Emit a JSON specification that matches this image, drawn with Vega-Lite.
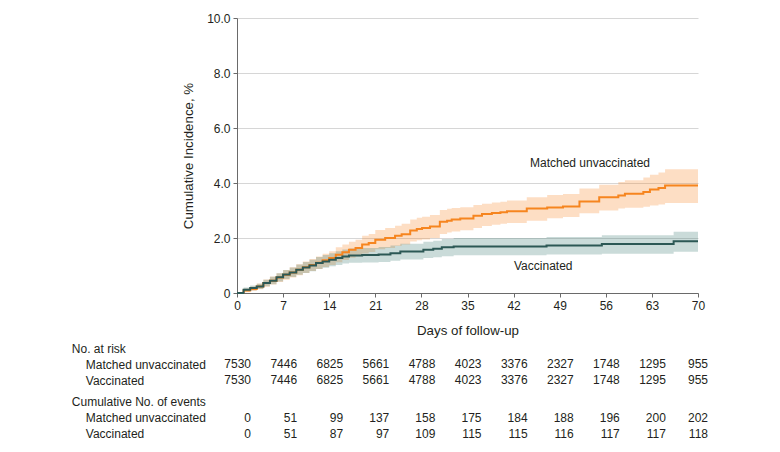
{
  "$schema": "https://vega.github.io/schema/vega-lite/v6.json",
  "autosize": {"type": "pad"},
  "padding": {"left": 71, "top": 12, "right": 5, "bottom": 5},
  "spacing": 5.3,
  "config": {
    "font": "Liberation Sans",
    "view": {"stroke": null},
    "axis": {"grid": false, "labelFont": "Liberation Sans", "titleFont": "Liberation Sans", "labelColor": "#231f20", "titleColor": "#231f20", "labelFontSize": 12, "titleFontSize": 13.3, "titleFontWeight": "normal", "domainColor": "#6a6a6a", "tickColor": "#6a6a6a", "tickSize": 4},
    "text": {"font": "Liberation Sans", "fontSize": 12, "color": "#231f20"}
  },
  "datasets": {
    "km": [
      {"group": "Matched unvaccinated", "day": 0, "est": 0, "lo": 0, "hi": 0},
      {"group": "Matched unvaccinated", "day": 1, "est": 0.09, "lo": 0.03, "hi": 0.16},
      {"group": "Matched unvaccinated", "day": 2, "est": 0.15, "lo": 0.07, "hi": 0.24},
      {"group": "Matched unvaccinated", "day": 3, "est": 0.24, "lo": 0.14, "hi": 0.35},
      {"group": "Matched unvaccinated", "day": 4, "est": 0.36, "lo": 0.23, "hi": 0.49},
      {"group": "Matched unvaccinated", "day": 5, "est": 0.45, "lo": 0.31, "hi": 0.6},
      {"group": "Matched unvaccinated", "day": 6, "est": 0.56, "lo": 0.4, "hi": 0.72},
      {"group": "Matched unvaccinated", "day": 7, "est": 0.66, "lo": 0.48, "hi": 0.84},
      {"group": "Matched unvaccinated", "day": 8, "est": 0.75, "lo": 0.56, "hi": 0.94},
      {"group": "Matched unvaccinated", "day": 9, "est": 0.85, "lo": 0.65, "hi": 1.05},
      {"group": "Matched unvaccinated", "day": 10, "est": 0.94, "lo": 0.73, "hi": 1.15},
      {"group": "Matched unvaccinated", "day": 11, "est": 1.02, "lo": 0.8, "hi": 1.24},
      {"group": "Matched unvaccinated", "day": 12, "est": 1.1, "lo": 0.87, "hi": 1.33},
      {"group": "Matched unvaccinated", "day": 13, "est": 1.19, "lo": 0.95, "hi": 1.43},
      {"group": "Matched unvaccinated", "day": 14, "est": 1.27, "lo": 1.02, "hi": 1.52},
      {"group": "Matched unvaccinated", "day": 15, "est": 1.39, "lo": 1.12, "hi": 1.66},
      {"group": "Matched unvaccinated", "day": 16, "est": 1.48, "lo": 1.2, "hi": 1.76},
      {"group": "Matched unvaccinated", "day": 17, "est": 1.57, "lo": 1.28, "hi": 1.86},
      {"group": "Matched unvaccinated", "day": 18, "est": 1.64, "lo": 1.34, "hi": 1.94},
      {"group": "Matched unvaccinated", "day": 19, "est": 1.76, "lo": 1.44, "hi": 2.08},
      {"group": "Matched unvaccinated", "day": 20, "est": 1.82, "lo": 1.49, "hi": 2.15},
      {"group": "Matched unvaccinated", "day": 21, "est": 1.94, "lo": 1.59, "hi": 2.29},
      {"group": "Matched unvaccinated", "day": 22.5, "est": 2.0, "lo": 1.64, "hi": 2.36},
      {"group": "Matched unvaccinated", "day": 24, "est": 2.08, "lo": 1.71, "hi": 2.45},
      {"group": "Matched unvaccinated", "day": 25, "est": 2.14, "lo": 1.76, "hi": 2.52},
      {"group": "Matched unvaccinated", "day": 26.3, "est": 2.27, "lo": 1.87, "hi": 2.67},
      {"group": "Matched unvaccinated", "day": 27.3, "est": 2.33, "lo": 1.92, "hi": 2.74},
      {"group": "Matched unvaccinated", "day": 28.1, "est": 2.36, "lo": 1.95, "hi": 2.77},
      {"group": "Matched unvaccinated", "day": 29.3, "est": 2.42, "lo": 2.0, "hi": 2.84},
      {"group": "Matched unvaccinated", "day": 30.8, "est": 2.59, "lo": 2.15, "hi": 3.02},
      {"group": "Matched unvaccinated", "day": 31.9, "est": 2.63, "lo": 2.2, "hi": 3.06},
      {"group": "Matched unvaccinated", "day": 32.6, "est": 2.67, "lo": 2.24, "hi": 3.09},
      {"group": "Matched unvaccinated", "day": 33.9, "est": 2.71, "lo": 2.28, "hi": 3.12},
      {"group": "Matched unvaccinated", "day": 35.9, "est": 2.81, "lo": 2.36, "hi": 3.2},
      {"group": "Matched unvaccinated", "day": 37.2, "est": 2.87, "lo": 2.44, "hi": 3.25},
      {"group": "Matched unvaccinated", "day": 38.7, "est": 2.91, "lo": 2.48, "hi": 3.29},
      {"group": "Matched unvaccinated", "day": 40, "est": 2.94, "lo": 2.52, "hi": 3.32},
      {"group": "Matched unvaccinated", "day": 41, "est": 2.97, "lo": 2.55, "hi": 3.36},
      {"group": "Matched unvaccinated", "day": 44, "est": 3.07, "lo": 2.63, "hi": 3.48},
      {"group": "Matched unvaccinated", "day": 47.1, "est": 3.11, "lo": 2.72, "hi": 3.56},
      {"group": "Matched unvaccinated", "day": 49.5, "est": 3.15, "lo": 2.76, "hi": 3.6},
      {"group": "Matched unvaccinated", "day": 52, "est": 3.33, "lo": 2.9, "hi": 3.8},
      {"group": "Matched unvaccinated", "day": 55, "est": 3.48, "lo": 3.0, "hi": 3.94},
      {"group": "Matched unvaccinated", "day": 57.9, "est": 3.55, "lo": 3.07, "hi": 4.04},
      {"group": "Matched unvaccinated", "day": 58.9, "est": 3.61, "lo": 3.1, "hi": 4.1},
      {"group": "Matched unvaccinated", "day": 61.7, "est": 3.67, "lo": 3.14, "hi": 4.2},
      {"group": "Matched unvaccinated", "day": 62.7, "est": 3.76, "lo": 3.18, "hi": 4.3},
      {"group": "Matched unvaccinated", "day": 64, "est": 3.82, "lo": 3.22, "hi": 4.38},
      {"group": "Matched unvaccinated", "day": 65, "est": 3.91, "lo": 3.27, "hi": 4.5},
      {"group": "Matched unvaccinated", "day": 70, "est": 3.91, "lo": 3.27, "hi": 4.5},
      {"group": "Vaccinated", "day": 0, "est": 0, "lo": 0, "hi": 0},
      {"group": "Vaccinated", "day": 1, "est": 0.12, "lo": 0.06, "hi": 0.2},
      {"group": "Vaccinated", "day": 2, "est": 0.18, "lo": 0.1, "hi": 0.27},
      {"group": "Vaccinated", "day": 3, "est": 0.24, "lo": 0.15, "hi": 0.34},
      {"group": "Vaccinated", "day": 4, "est": 0.36, "lo": 0.25, "hi": 0.48},
      {"group": "Vaccinated", "day": 5, "est": 0.45, "lo": 0.32, "hi": 0.59},
      {"group": "Vaccinated", "day": 6, "est": 0.57, "lo": 0.42, "hi": 0.72},
      {"group": "Vaccinated", "day": 7, "est": 0.67, "lo": 0.51, "hi": 0.84},
      {"group": "Vaccinated", "day": 8, "est": 0.75, "lo": 0.58, "hi": 0.93},
      {"group": "Vaccinated", "day": 9, "est": 0.85, "lo": 0.66, "hi": 1.04},
      {"group": "Vaccinated", "day": 10, "est": 0.93, "lo": 0.73, "hi": 1.13},
      {"group": "Vaccinated", "day": 11, "est": 1.0, "lo": 0.79, "hi": 1.21},
      {"group": "Vaccinated", "day": 12, "est": 1.09, "lo": 0.87, "hi": 1.31},
      {"group": "Vaccinated", "day": 13, "est": 1.15, "lo": 0.92, "hi": 1.38},
      {"group": "Vaccinated", "day": 14, "est": 1.21, "lo": 0.97, "hi": 1.45},
      {"group": "Vaccinated", "day": 15, "est": 1.27, "lo": 1.02, "hi": 1.52},
      {"group": "Vaccinated", "day": 16, "est": 1.33, "lo": 1.07, "hi": 1.58},
      {"group": "Vaccinated", "day": 17, "est": 1.36, "lo": 1.1, "hi": 1.62},
      {"group": "Vaccinated", "day": 19, "est": 1.38, "lo": 1.11, "hi": 1.64},
      {"group": "Vaccinated", "day": 21.5, "est": 1.4, "lo": 1.13, "hi": 1.67},
      {"group": "Vaccinated", "day": 23.3, "est": 1.45, "lo": 1.17, "hi": 1.73},
      {"group": "Vaccinated", "day": 24.8, "est": 1.51, "lo": 1.22, "hi": 1.79},
      {"group": "Vaccinated", "day": 28.3, "est": 1.57, "lo": 1.27, "hi": 1.86},
      {"group": "Vaccinated", "day": 29.8, "est": 1.61, "lo": 1.3, "hi": 1.9},
      {"group": "Vaccinated", "day": 31.1, "est": 1.66, "lo": 1.34, "hi": 1.96},
      {"group": "Vaccinated", "day": 32.9, "est": 1.69, "lo": 1.37, "hi": 2.0},
      {"group": "Vaccinated", "day": 47, "est": 1.73, "lo": 1.4, "hi": 2.04},
      {"group": "Vaccinated", "day": 55.4, "est": 1.78, "lo": 1.43, "hi": 2.1},
      {"group": "Vaccinated", "day": 66.3, "est": 1.88, "lo": 1.5, "hi": 2.23},
      {"group": "Vaccinated", "day": 70, "est": 1.88, "lo": 1.5, "hi": 2.23}
    ],
    "labels": [
      {"label": "Matched unvaccinated", "day": 53.6, "val": 4.73},
      {"label": "Vaccinated", "day": 46.5, "val": 1.0}
    ],
    "table": [
      {"section": "risk", "group": "Matched unvaccinated", "day": 0, "n": 7530},
      {"section": "risk", "group": "Matched unvaccinated", "day": 7, "n": 7446},
      {"section": "risk", "group": "Matched unvaccinated", "day": 14, "n": 6825},
      {"section": "risk", "group": "Matched unvaccinated", "day": 21, "n": 5661},
      {"section": "risk", "group": "Matched unvaccinated", "day": 28, "n": 4788},
      {"section": "risk", "group": "Matched unvaccinated", "day": 35, "n": 4023},
      {"section": "risk", "group": "Matched unvaccinated", "day": 42, "n": 3376},
      {"section": "risk", "group": "Matched unvaccinated", "day": 49, "n": 2327},
      {"section": "risk", "group": "Matched unvaccinated", "day": 56, "n": 1748},
      {"section": "risk", "group": "Matched unvaccinated", "day": 63, "n": 1295},
      {"section": "risk", "group": "Matched unvaccinated", "day": 70, "n": 955},
      {"section": "risk", "group": "Vaccinated", "day": 0, "n": 7530},
      {"section": "risk", "group": "Vaccinated", "day": 7, "n": 7446},
      {"section": "risk", "group": "Vaccinated", "day": 14, "n": 6825},
      {"section": "risk", "group": "Vaccinated", "day": 21, "n": 5661},
      {"section": "risk", "group": "Vaccinated", "day": 28, "n": 4788},
      {"section": "risk", "group": "Vaccinated", "day": 35, "n": 4023},
      {"section": "risk", "group": "Vaccinated", "day": 42, "n": 3376},
      {"section": "risk", "group": "Vaccinated", "day": 49, "n": 2327},
      {"section": "risk", "group": "Vaccinated", "day": 56, "n": 1748},
      {"section": "risk", "group": "Vaccinated", "day": 63, "n": 1295},
      {"section": "risk", "group": "Vaccinated", "day": 70, "n": 955},
      {"section": "events", "group": "Matched unvaccinated", "day": 0, "n": 0},
      {"section": "events", "group": "Matched unvaccinated", "day": 7, "n": 51},
      {"section": "events", "group": "Matched unvaccinated", "day": 14, "n": 99},
      {"section": "events", "group": "Matched unvaccinated", "day": 21, "n": 137},
      {"section": "events", "group": "Matched unvaccinated", "day": 28, "n": 158},
      {"section": "events", "group": "Matched unvaccinated", "day": 35, "n": 175},
      {"section": "events", "group": "Matched unvaccinated", "day": 42, "n": 184},
      {"section": "events", "group": "Matched unvaccinated", "day": 49, "n": 188},
      {"section": "events", "group": "Matched unvaccinated", "day": 56, "n": 196},
      {"section": "events", "group": "Matched unvaccinated", "day": 63, "n": 200},
      {"section": "events", "group": "Matched unvaccinated", "day": 70, "n": 202},
      {"section": "events", "group": "Vaccinated", "day": 0, "n": 0},
      {"section": "events", "group": "Vaccinated", "day": 7, "n": 51},
      {"section": "events", "group": "Vaccinated", "day": 14, "n": 87},
      {"section": "events", "group": "Vaccinated", "day": 21, "n": 97},
      {"section": "events", "group": "Vaccinated", "day": 28, "n": 109},
      {"section": "events", "group": "Vaccinated", "day": 35, "n": 115},
      {"section": "events", "group": "Vaccinated", "day": 42, "n": 115},
      {"section": "events", "group": "Vaccinated", "day": 49, "n": 116},
      {"section": "events", "group": "Vaccinated", "day": 56, "n": 117},
      {"section": "events", "group": "Vaccinated", "day": 63, "n": 117},
      {"section": "events", "group": "Vaccinated", "day": 70, "n": 118}
    ]
  },
  "vconcat": [
    {
      "width": 461,
      "height": 275,
      "layer": [
        {
          "data": {"name": "km"},
          "mark": {"type": "area", "interpolate": "step-after", "fillOpacity": 0.28},
          "encoding": {
            "x": {"field": "day", "type": "quantitative", "scale": {"domain": [0, 70], "nice": false},
              "axis": {"title": "Days of follow-up", "values": [0, 7, 14, 21, 28, 35, 42, 49, 56, 63, 70], "labelPadding": 3, "titlePadding": 12, "labelFlush": false}},
            "y": {"field": "hi", "type": "quantitative", "scale": {"domain": [0, 10], "nice": false},
              "axis": {"title": "Cumulative Incidence, %", "values": [0, 2, 4, 6, 8, 10], "labelExpr": "datum.value == 0 ? '0' : format(datum.value, '.1f')", "grid": true, "gridColor": "#d6d6d6", "labelPadding": 3, "titlePadding": 11, "labelFlush": false}},
            "y2": {"field": "lo"},
            "fill": {"field": "group", "type": "nominal", "scale": {"domain": ["Matched unvaccinated", "Vaccinated"], "range": ["#f98a2a", "#3f7d77"]}, "legend": null}
          }
        },
        {
          "data": {"name": "km"},
          "mark": {"type": "line", "interpolate": "step-after", "strokeWidth": 2},
          "encoding": {
            "x": {"field": "day", "type": "quantitative"},
            "y": {"field": "est", "type": "quantitative"},
            "stroke": {"field": "group", "type": "nominal", "scale": {"domain": ["Matched unvaccinated", "Vaccinated"], "range": ["#f6851f", "#2c5855"]}, "legend": null}
          }
        },
        {
          "data": {"name": "labels"},
          "mark": {"type": "text", "fontSize": 12, "align": "center", "baseline": "middle"},
          "encoding": {
            "x": {"field": "day", "type": "quantitative"},
            "y": {"field": "val", "type": "quantitative"},
            "text": {"field": "label"}
          }
        }
      ]
    },
    {
      "width": 461,
      "height": 42,
      "data": {"name": "table"},
      "transform": [{"filter": "datum.section == 'risk'"}],
      "encoding": {
        "x": {"field": "day", "type": "quantitative", "scale": {"domain": [0, 70], "nice": false}, "axis": null},
        "y": {"field": "group", "type": "nominal", "scale": {"type": "point", "padding": 0.3125, "align": 0, "domain": ["No. at risk", "Matched unvaccinated", "Vaccinated"]},
          "axis": {"title": null, "domain": false, "ticks": false, "labelAlign": "left", "labelBaseline": "middle", "labelLimit": 300,
            "labelPadding": {"condition": {"test": "datum.value == 'No. at risk'", "value": 165.7}, "value": 151.7}}},
        "text": {"field": "n", "type": "quantitative", "format": "d"}
      },
      "layer": [
        {"transform": [{"filter": "datum.day < 70"}], "mark": {"type": "text", "align": "right", "baseline": "middle", "dx": 14}},
        {"transform": [{"filter": "datum.day == 70"}], "mark": {"type": "text", "align": "right", "baseline": "middle", "dx": 10}}
      ]
    },
    {
      "width": 461,
      "height": 32,
      "data": {"name": "table"},
      "transform": [{"filter": "datum.section == 'events'"}],
      "encoding": {
        "x": {"field": "day", "type": "quantitative", "scale": {"domain": [0, 70], "nice": false}, "axis": null},
        "y": {"field": "group", "type": "nominal", "scale": {"type": "point", "padding": 0, "domain": ["Cumulative No. of events", "Matched unvaccinated", "Vaccinated"]},
          "axis": {"title": null, "domain": false, "ticks": false, "labelAlign": "left", "labelBaseline": "middle", "labelLimit": 300,
            "labelPadding": {"condition": {"test": "datum.value == 'Cumulative No. of events'", "value": 165.7}, "value": 151.7}}},
        "text": {"field": "n", "type": "quantitative", "format": "d"}
      },
      "layer": [
        {"transform": [{"filter": "datum.day < 70"}], "mark": {"type": "text", "align": "right", "baseline": "middle", "dx": 14}},
        {"transform": [{"filter": "datum.day == 70"}], "mark": {"type": "text", "align": "right", "baseline": "middle", "dx": 10}}
      ]
    }
  ]
}
